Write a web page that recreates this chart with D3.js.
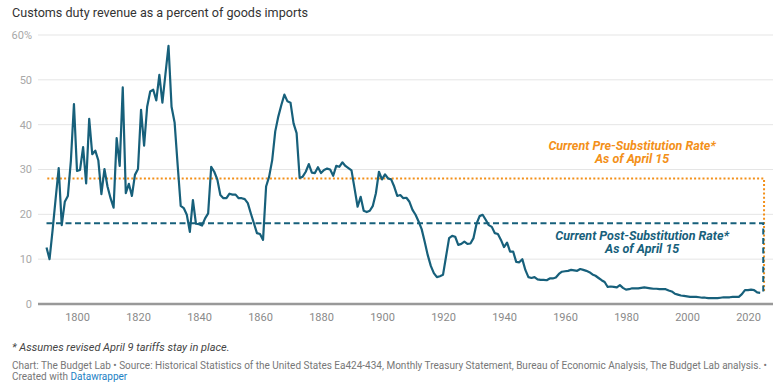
<!DOCTYPE html>
<html>
<head>
<meta charset="utf-8">
<script src="https://cdn.jsdelivr.net/npm/d3@7"></script>
<style>
  body { margin: 0; background: #fff; font-family: Roboto, "Noto Sans", sans-serif; }
  svg text { font-family: Roboto, "Noto Sans", sans-serif; }
</style>
</head>
<body>
<script>
// customs duty revenue as % of goods imports, one value per year from 1790
var startYear = 1790;
var dutyRate = [
  12.6, 10.0, 16.5, 23.5, 30.3, 17.6, 22.8, 24.1, 32.0, 44.6,
  29.7, 29.9, 35.0, 26.9, 41.3, 33.4, 34.2, 32.0, 24.5, 30.1,
  26.2, 23.6, 21.5, 37.0, 30.8, 48.3, 24.7, 26.8, 24.1, 28.8,
  30.1, 43.3, 35.3, 44.0, 47.4, 47.8, 45.4, 51.1, 44.9, 51.3,
  57.6, 44.0, 40.5, 31.0, 21.9, 21.4, 19.9, 16.1, 23.2, 17.9,
  17.8, 17.5, 19.1, 20.2, 30.6, 29.5, 27.8, 24.3, 23.6, 23.6,
  24.6, 24.4, 24.4, 23.6, 23.6, 23.4, 22.5, 20.2, 18.0, 15.8,
  15.6, 14.3, 26.2, 28.4, 32.1, 38.5, 41.8, 44.4, 46.7, 45.2,
  44.9, 40.3, 38.1, 28.1, 28.4, 29.5, 31.2, 29.3, 29.2, 30.5,
  29.2, 29.9, 30.2, 30.0, 28.6, 30.8, 30.6, 31.6, 30.8, 30.3,
  29.8, 25.8, 21.7, 23.9, 20.8, 20.5, 20.8, 21.9, 24.7, 29.5,
  27.8, 28.9, 28.0, 27.8, 26.2, 24.1, 24.3, 23.6, 23.7, 22.8,
  21.0, 19.9, 18.4, 16.7, 13.9, 10.9, 8.5, 6.9, 6.0, 6.2,
  6.5, 10.6, 14.7, 15.2, 15.0, 13.2, 13.4, 13.9, 13.4, 13.5,
  14.7, 17.9, 19.6, 19.9, 18.8, 17.6, 17.2, 15.8, 15.6, 14.3,
  12.7, 13.7, 11.7, 11.7, 9.4, 9.3, 10.0, 7.6, 6.0, 5.8,
  6.0, 5.5, 5.4, 5.4, 5.3, 5.7, 5.7, 5.9, 6.7, 7.2,
  7.3, 7.4, 7.6, 7.5, 7.4, 7.8, 7.6, 7.4, 7.1, 6.6,
  6.3, 5.8, 5.3, 4.9, 3.8, 3.9, 3.8, 3.7, 4.2, 3.6,
  3.2, 3.3, 3.5, 3.5, 3.5, 3.6, 3.7, 3.6, 3.5, 3.4,
  3.4, 3.3, 3.3, 3.3, 3.0, 2.8, 2.3, 2.1, 1.9, 1.8,
  1.7, 1.6, 1.6, 1.6, 1.5, 1.4, 1.4, 1.3, 1.3, 1.3,
  1.3, 1.4, 1.5, 1.5, 1.5, 1.6, 1.6, 1.6, 2.2, 3.1,
  3.1, 3.2, 3.1, 2.6, 2.5
];

var xTicks = [1800, 1820, 1840, 1860, 1880, 1900, 1920, 1940, 1960, 1980, 2000, 2020];
var yTicks = [0, 10, 20, 30, 40, 50, 60];

// reference rates (pre / post substitution) and where they stop
var refNames = ['pre', 'post'];
var refRates = [28, 18];
var refEndYear = 2025;
var refLabels = [
  ['Current Pre-Substitution Rate*', 'As of April 15'],
  ['Current Post-Substitution Rate*', 'As of April 15']
];
var refLabelYear = [1982, 1985.3];
var refLabelValue = [34.4, 14.3];

var title = 'Customs duty revenue as a percent of goods imports';
var note = '* Assumes revised April 9 tariffs stay in place.';
var source = 'Chart: The Budget Lab \u2022 Source: Historical Statistics of the United States Ea424-434, Monthly Treasury Statement, Bureau of Economic Analysis, The Budget Lab analysis. \u2022';

var W = 780, H = 390;
var gridLeft = 38, gridRight = 773;
var blue = '#17607b', orange = '#f39019';

var data = dutyRate.map(function(v, i) { return {year: startYear + i, value: v}; });

var x = d3.scaleLinear().domain([1800, 2020]).range([77, 748]);
var y = d3.scaleLinear().domain([0, 60]).range([304, 35]);

var svg = d3.select('body').append('svg')
  .attr('width', W)
  .attr('height', H);

svg.append('text')
  .attr('x', 12)
  .attr('y', 16.5)
  .attr('fill', '#333')
  .style('font-size', '12.6px')
  .text(title);

// grid
svg.append('g')
  .selectAll('line')
  .data(yTicks.filter(function(d) { return d > 0; }))
  .enter().append('line')
  .attr('x1', gridLeft)
  .attr('x2', gridRight)
  .attr('y1', function(d) { return y(d); })
  .attr('y2', function(d) { return y(d); })
  .attr('stroke', '#e5e5e5')
  .attr('stroke-width', 1);

svg.append('g')
  .selectAll('text')
  .data(yTicks)
  .enter().append('text')
  .attr('x', 32)
  .attr('y', function(d) { return y(d); })
  .attr('dy', '0.36em')
  .attr('text-anchor', 'end')
  .attr('fill', '#a8a8a8')
  .style('font-size', '11px')
  .text(function(d) { return d === 60 ? d + '%' : d; });

// x axis
var xAxis = d3.axisBottom(x).tickValues(xTicks).tickSize(0).tickPadding(9).tickFormat(d3.format('d'));
var gx = svg.append('g')
  .attr('transform', 'translate(0,' + y(0) + ')')
  .call(xAxis);
gx.select('.domain').remove();
gx.selectAll('text')
  .attr('fill', '#8a8a8a')
  .style('font-size', '11px')
  .style('font-family', 'Roboto, sans-serif');

svg.append('line')
  .attr('x1', gridLeft)
  .attr('x2', gridRight)
  .attr('y1', y(0))
  .attr('y2', y(0))
  .attr('stroke', '#999')
  .attr('stroke-width', 2.5);

// reference lines
var lastVal = dutyRate[dutyRate.length - 1];
var refStyle = {
  pre: {color: orange, dash: '2,2.2'},
  post: {color: blue, dash: '6,3.5'}
};
refNames.forEach(function(name, i) {
  var st = refStyle[name];
  var pts = [[startYear, refRates[i]], [refEndYear, refRates[i]], [refEndYear, lastVal]];
  svg.append('path')
    .datum(pts)
    .attr('fill', 'none')
    .attr('stroke', st.color)
    .attr('stroke-width', 2)
    .attr('stroke-dasharray', st.dash)
    .attr('transform', name === 'pre' ? 'translate(0.8,0)' : null)
    .attr('d', d3.line().x(function(d) { return x(d[0]); }).y(function(d) { return y(d[1]); }));

  var t = svg.append('text')
    .attr('x', x(refLabelYear[i]))
    .attr('y', y(refLabelValue[i]))
    .attr('text-anchor', 'middle')
    .attr('fill', st.color)
    .style('font-size', '12.5px')
    .style('font-weight', 'bold')
    .style('font-style', 'italic');
  refLabels[i].forEach(function(s, j) {
    t.append('tspan')
      .attr('x', x(refLabelYear[i]))
      .attr('dy', j === 0 ? 0 : 13.5)
      .text(s);
  });
});

// main series
svg.append('path')
  .datum(data)
  .attr('fill', 'none')
  .attr('stroke', blue)
  .attr('stroke-width', 2.2)
  .attr('stroke-linejoin', 'round')
  .attr('d', d3.line()
    .x(function(d) { return x(d.year); })
    .y(function(d) { return y(d.value); }));

// footer
svg.append('text')
  .attr('x', 12)
  .attr('y', 351)
  .attr('fill', '#444')
  .style('font-size', '11px')
  .style('font-style', 'italic')
  .text(note);

svg.append('text')
  .attr('x', 12)
  .attr('y', 368.5)
  .attr('fill', '#777')
  .style('font-size', '10px')
  .text(source);

var cr = svg.append('text')
  .attr('x', 12)
  .attr('y', 380)
  .attr('fill', '#777')
  .style('font-size', '10px');
cr.append('tspan').text('Created with ');
cr.append('tspan').attr('fill', '#1d81c4').text('Datawrapper');
</script>
</body>
</html>
